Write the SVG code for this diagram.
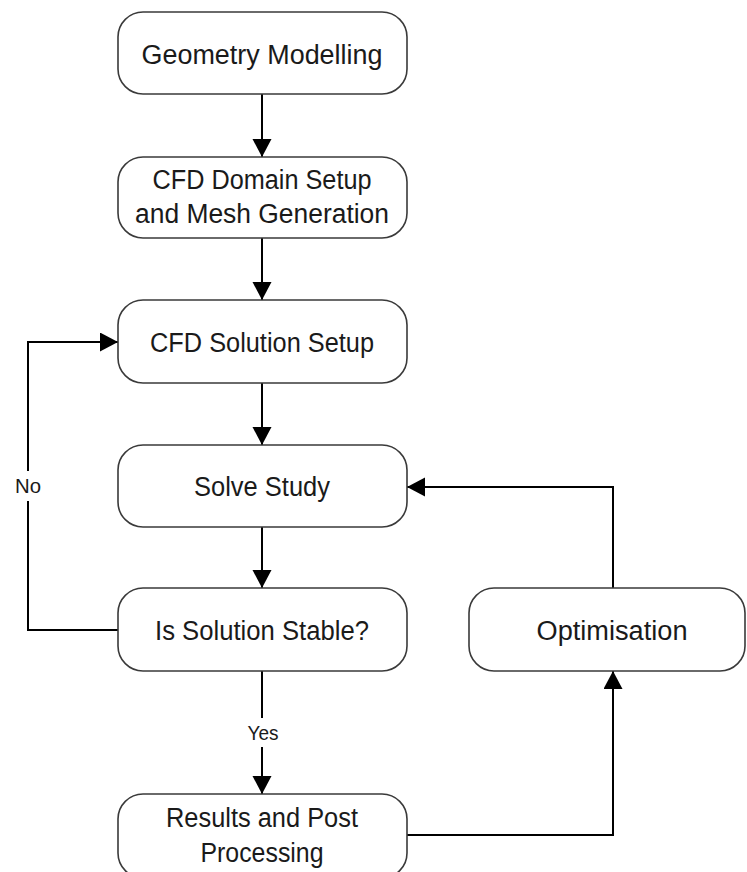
<svg xmlns="http://www.w3.org/2000/svg" width="747" height="872" viewBox="0 0 747 872">
<style>
.box{fill:#ffffff;stroke:#3a3a3a;stroke-width:1.6}
.t{font-family:"Liberation Sans",Arial,sans-serif;font-size:27px;fill:#1a1a1a;text-anchor:middle}
.lbl{font-family:"Liberation Sans",Arial,sans-serif;font-size:20px;fill:#1a1a1a;text-anchor:middle}
.c{fill:none;stroke:#000000;stroke-width:2}
</style>
<defs>
<marker id="ah" markerUnits="userSpaceOnUse" markerWidth="20" markerHeight="20" refX="18" refY="9.5" orient="auto">
<path d="M0,0 L18,9.5 L0,19 Z" fill="#000000"/>
</marker>
</defs>
<rect width="747" height="872" fill="#ffffff"/>
<g id="connectors">
<path class="c" d="M262,94 V157" marker-end="url(#ah)"/>
<path class="c" d="M262,238 V300" marker-end="url(#ah)"/>
<path class="c" d="M262,383 V445" marker-end="url(#ah)"/>
<path class="c" d="M262,527 V588" marker-end="url(#ah)"/>
<path class="c" d="M262,671 V718"/>
<path class="c" d="M262,747 V794" marker-end="url(#ah)"/>
<path class="c" d="M118,630 H28 V501"/>
<path class="c" d="M28,471 V342 H118" marker-end="url(#ah)"/>
<path class="c" d="M407,835 H613 V671" marker-end="url(#ah)"/>
<path class="c" d="M613,588 V487 H407" marker-end="url(#ah)"/>
<text class="lbl" x="28" y="493" textLength="26" lengthAdjust="spacingAndGlyphs">No</text>
<text class="lbl" x="263" y="740" textLength="31" lengthAdjust="spacingAndGlyphs">Yes</text>
</g>
<g id="geometry">
<rect class="box" x="118" y="12" width="289" height="82" rx="25"/>
<text class="t" x="262" y="64" textLength="241" lengthAdjust="spacingAndGlyphs">Geometry Modelling</text>
</g>
<g id="domain">
<rect class="box" x="118" y="157" width="289" height="81" rx="25"/>
<text class="t" x="262" y="189" textLength="219" lengthAdjust="spacingAndGlyphs">CFD Domain Setup</text>
<text class="t" x="262" y="223" textLength="254" lengthAdjust="spacingAndGlyphs">and Mesh Generation</text>
</g>
<g id="solution-setup">
<rect class="box" x="118" y="300" width="289" height="83" rx="25"/>
<text class="t" x="262" y="352" textLength="224" lengthAdjust="spacingAndGlyphs">CFD Solution Setup</text>
</g>
<g id="solve">
<rect class="box" x="118" y="445" width="289" height="82" rx="25"/>
<text class="t" x="262" y="496" textLength="136" lengthAdjust="spacingAndGlyphs">Solve Study</text>
</g>
<g id="stable">
<rect class="box" x="118" y="588" width="289" height="83" rx="25"/>
<text class="t" x="262" y="640" textLength="214" lengthAdjust="spacingAndGlyphs">Is Solution Stable?</text>
</g>
<g id="optimisation">
<rect class="box" x="469" y="588" width="276" height="83" rx="25"/>
<text class="t" x="612" y="640" textLength="151" lengthAdjust="spacingAndGlyphs">Optimisation</text>
</g>
<g id="results">
<rect class="box" x="118" y="794" width="289" height="84" rx="25"/>
<text class="t" x="262" y="827" textLength="192" lengthAdjust="spacingAndGlyphs">Results and Post</text>
<text class="t" x="262" y="862" textLength="123" lengthAdjust="spacingAndGlyphs">Processing</text>
</g>
</svg>
